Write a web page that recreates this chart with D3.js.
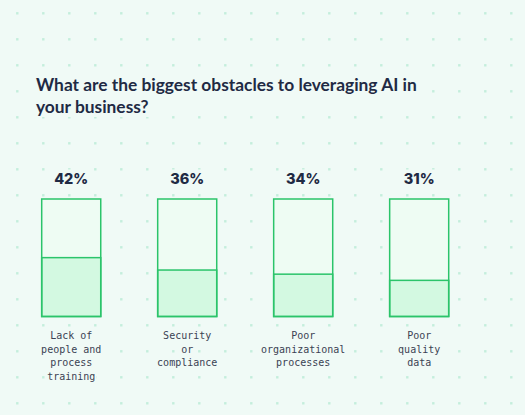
<!DOCTYPE html>
<html>
<head>
<meta charset="utf-8">
<script src="https://cdn.jsdelivr.net/npm/d3@7"></script>
<style>
  html, body { margin: 0; padding: 0; background: #f0faf6; }
  svg { display: block; }
</style>
</head>
<body>
<svg id="chart" width="525" height="415"></svg>
<script>
// data
const categories = ['Lack of people and process training', 'Security or compliance',
    'Poor organizational processes', 'Poor quality data'];
const labelLines = [['Lack of', 'people and', 'process', 'training'],
    ['Security', 'or', 'compliance'],
    ['Poor', 'organizational', 'processes'],
    ['Poor', 'quality', 'data']];
const values = [42, 36, 34, 31];
const titleLines = ['What are the biggest obstacles to leveraging AI in', 'your business?'];

const W = 525, H = 415;
const bg = '#f0faf6';
const svg = d3.select('#chart');

svg.append('rect').attr('width', W).attr('height', H).attr('fill', bg);

// dotted background grid
let dotX = d3.range(17.3, W, 26);
let dotY = d3.range(13.3, H, 26);
let dots = [];
dotY.forEach(y => dotX.forEach(x => dots.push([x, y])));
svg.append('g')
    .selectAll('rect')
    .data(dots)
    .enter()
    .append('rect')
    .attr('x', d => d[0] - 1.2)
    .attr('y', d => d[1] - 1.2)
    .attr('width', 2.4)
    .attr('height', 2.4)
    .attr('fill', '#c4eedc');

// puts a background box behind a text so the dots don't show through
function knockout(sel, pad) {
    sel.each(function () {
        let b = this.getBBox();
        d3.select(this.parentNode).insert('rect', () => this)
            .attr('x', b.x - pad)
            .attr('y', b.y)
            .attr('width', b.width + pad * 2)
            .attr('height', b.height)
            .attr('fill', bg);
    });
}

// title
let title = svg.append('g');
let titleText = title.selectAll('text')
    .data(titleLines)
    .enter()
    .append('text')
    .attr('x', 36)
    .attr('y', (d, i) => 91 + i * 22)
    .attr('font-family', 'Lato, sans-serif')
    .attr('font-weight', 700)
    .attr('font-size', 18)
    .attr('fill', '#1f2a44')
    .text(d => d);
// first line should run to about x=417
let w0 = titleText.node().getComputedTextLength();
titleText.attr('font-size', 18 * 381 / w0);
knockout(titleText, 2);

// scales
let x = d3.scaleBand()
    .domain(categories)
    .range([41.7, 448.7])
    .paddingInner(0.491)
    .paddingOuter(0);
let barTop = 199, barBottom = 316.5;
let y = d3.scaleLinear()
    .domain([13.5, 70.4])
    .range([barBottom, barTop]);

let bars = svg.append('g')
    .selectAll('g')
    .data(categories)
    .enter()
    .append('g');

bars.append('rect')
    .attr('x', d => x(d))
    .attr('y', barTop)
    .attr('width', x.bandwidth())
    .attr('height', barBottom - barTop)
    .attr('fill', '#eefcf3');

bars.append('rect')
    .attr('x', d => x(d))
    .attr('y', (d, i) => y(values[i]))
    .attr('width', x.bandwidth())
    .attr('height', (d, i) => barBottom - y(values[i]))
    .attr('fill', '#d3f9e1')
    .attr('stroke', '#2bc46a')
    .attr('stroke-width', 1.5);

bars.append('rect')
    .attr('x', d => x(d))
    .attr('y', barTop)
    .attr('width', x.bandwidth())
    .attr('height', barBottom - barTop)
    .attr('fill', 'none')
    .attr('stroke', '#2bc46a')
    .attr('stroke-width', 1.5);

// percentage labels
bars.append('text')
    .attr('class', 'pct')
    .attr('x', d => x(d) + x.bandwidth() / 2)
    .attr('y', 183.5)
    .attr('text-anchor', 'middle')
    .attr('font-family', 'Inter, sans-serif')
    .attr('font-weight', 800)
    .attr('font-size', 14.5)
    .attr('fill', '#1f2a44')
    .text((d, i) => values[i] + '%');
knockout(bars.selectAll('text.pct'), 1);

// category labels, one text per line
bars.each(function (d, i) {
    let g = d3.select(this);
    let cx = x(d) + x.bandwidth() / 2;
    g.selectAll('text.cat')
        .data(labelLines[i])
        .enter()
        .append('text')
        .attr('class', 'cat')
        .attr('x', cx)
        .attr('y', (t, j) => 339 + j * 13.5)
        .attr('text-anchor', 'middle')
        .attr('font-family', '"DejaVu Sans Mono", monospace')
        .attr('font-size', 10)
        .attr('fill', '#3b4253')
        .text(t => t);
});
knockout(bars.selectAll('text.cat'), 1);
</script>
</body>
</html>
